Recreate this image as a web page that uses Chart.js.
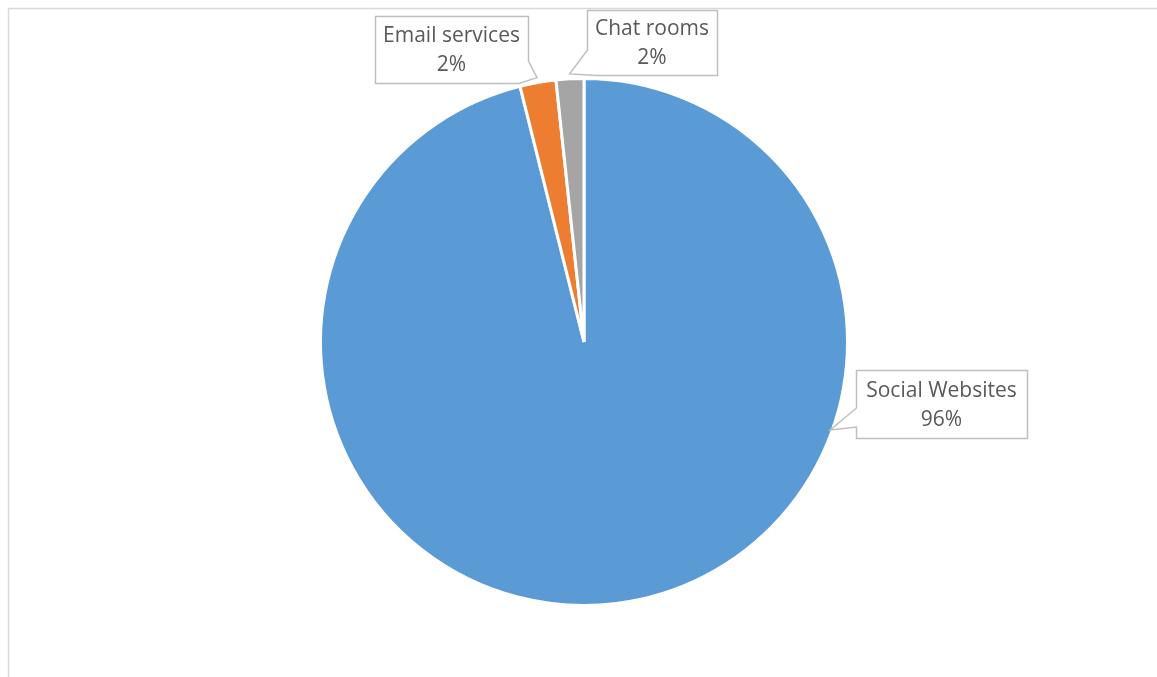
<!DOCTYPE html>
<html>
<head>
<meta charset="utf-8">
<script src="https://cdn.jsdelivr.net/npm/chart.js@4.4.1/dist/chart.umd.min.js"></script>
<style>
  html, body { margin: 0; padding: 0; background: #ffffff; }
  #wrap { width: 1157px; height: 677px; position: relative; }
</style>
</head>
<body>
<div id="wrap"><canvas id="chart" width="1157" height="677"></canvas></div>
<script>
// Share of online channels
const categories = ['Social Websites', 'Email services', 'Chat rooms'];
const shares = [96.1, 2.2, 1.7];
const percentLabels = ['96%', '2%', '2%'];
const sliceColors = ['#5b9bd5', '#ed7d31', '#a5a5a5'];

// Callout boxes: rectangle, where the pointer leaves the box, and where on the slice it points
const callouts = [
  { box: [856, 370, 171, 68], angleFrac: 0.317, radOffset: -2,
    outline: (b, t) => [[b.x, b.y], [b.r, b.y], [b.r, b.b], [b.x, b.b], [b.x, 427], t, [b.x, 408]] },
  { box: [375, 16, 153, 67], angleFrac: 0.5, radOffset: 5,
    outline: (b, t) => [[b.x, b.y], [b.r, b.y], [b.r, 61], t, [519, b.b], [b.x, b.b]] },
  { box: [587, 10, 130, 65], angleFrac: 0.5, radOffset: 5,
    outline: (b, t) => [[b.x, b.y], [b.r, b.y], [b.r, b.b], [597, b.b], t, [b.x, 50]] }
];

const frame = {
  id: 'frame',
  beforeDraw(chart) {
    const ctx = chart.ctx;
    ctx.save();
    ctx.strokeStyle = '#d9d9d9';
    ctx.lineWidth = 1.5;
    ctx.beginPath();
    ctx.moveTo(1157, 8.5);
    ctx.lineTo(8.5, 8.5);
    ctx.lineTo(8.5, 677);
    ctx.stroke();
    ctx.restore();
  }
};

const calloutLabels = {
  id: 'calloutLabels',
  afterDatasetsDraw(chart) {
    const ctx = chart.ctx;
    const arcs = chart.getDatasetMeta(0).data;
    ctx.save();
    callouts.forEach((c, i) => {
      const arc = arcs[i];
      const p = arc.getProps(['x', 'y', 'startAngle', 'endAngle', 'outerRadius'], true);
      const a = p.startAngle + (p.endAngle - p.startAngle) * c.angleFrac;
      const rr = p.outerRadius + c.radOffset;
      const tip = [p.x + Math.cos(a) * rr, p.y + Math.sin(a) * rr];
      const b = { x: c.box[0] + 0.5, y: c.box[1] + 0.5, r: c.box[0] + c.box[2] + 0.5, b: c.box[1] + c.box[3] + 0.5 };
      const pts = c.outline(b, tip);
      ctx.beginPath();
      pts.forEach((pt, k) => k ? ctx.lineTo(pt[0], pt[1]) : ctx.moveTo(pt[0], pt[1]));
      ctx.closePath();
      ctx.fillStyle = '#ffffff';
      ctx.fill();
      ctx.strokeStyle = '#bfbfbf';
      ctx.lineWidth = 1.5;
      ctx.stroke();

      const cx = c.box[0] + c.box[2] / 2;
      const cy = c.box[1] + c.box[3] / 2;
      ctx.fillStyle = '#595959';
      ctx.font = '21px "Open Sans", sans-serif';
      ctx.textAlign = 'center';
      ctx.textBaseline = 'middle';
      ctx.fillText(chart.data.labels[i], cx, cy - 13);
      ctx.fillText(percentLabels[i], cx, cy + 16);
    });
    ctx.restore();
  }
};

new Chart(document.getElementById('chart'), {
  type: 'pie',
  data: {
    labels: categories,
    datasets: [{
      data: shares,
      backgroundColor: sliceColors,
      borderColor: '#ffffff',
      borderWidth: 3
    }]
  },
  options: {
    responsive: false,
    animation: false,
    layout: { padding: { top: 77, bottom: 70, left: 11, right: 0 } },
    plugins: {
      legend: { display: false },
      tooltip: { enabled: false }
    }
  },
  plugins: [frame, calloutLabels]
});
</script>
</body>
</html>
